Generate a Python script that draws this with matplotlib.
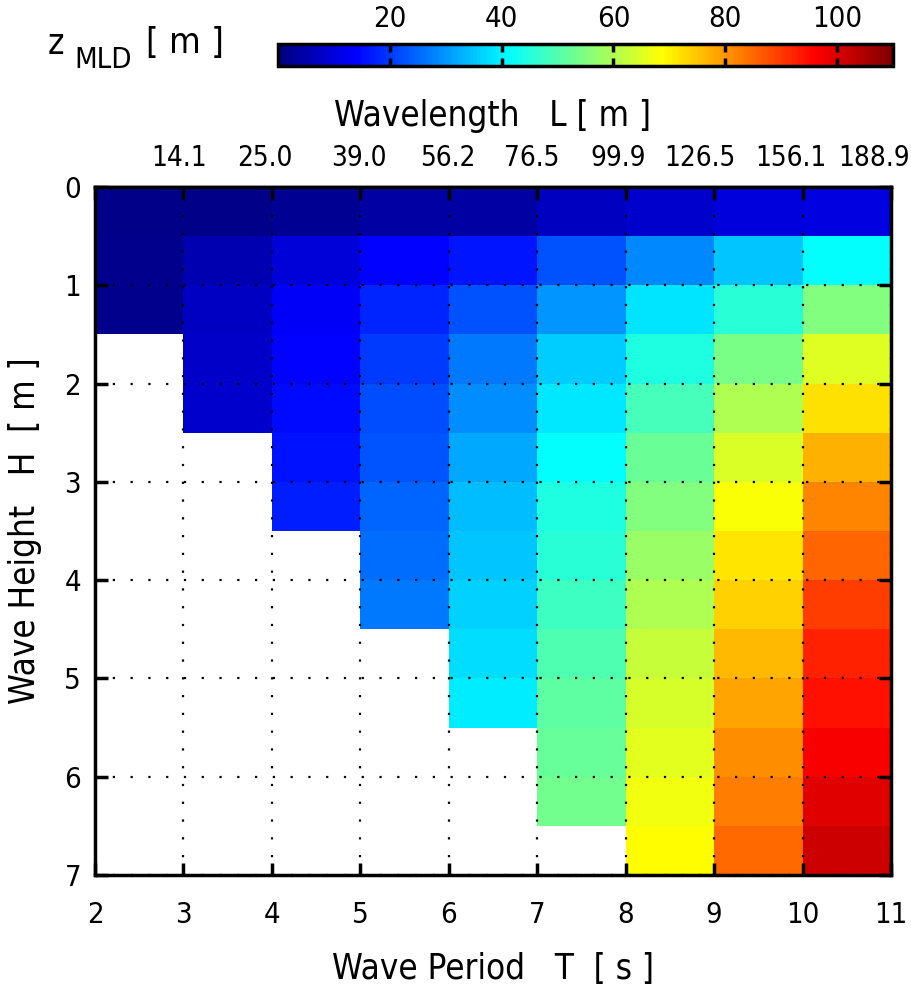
import numpy as np
import matplotlib
matplotlib.use("Agg")
import matplotlib.pyplot as plt
import matplotlib.transforms as mtrans
from matplotlib.colors import LinearSegmentedColormap
from matplotlib import font_manager as fm

# narrow font if one is installed
avail = {f.name for f in fm.fontManager.ttflist}
fams = [f for f in ['Liberation Sans Narrow', 'DejaVu Sans Condensed'] if f in avail]
plt.rcParams['font.family'] = fams + ['DejaVu Sans']
plt.rcParams['font.stretch'] = 'condensed'

# wave period columns (left edges) and wave height rows (top edges)
period = [2, 3, 4, 5, 6, 7, 8, 9, 10]
height_edges = np.arange(0, 7.5, 0.5)

# mixed layer depth [m] per period, from H = 0 downward in 0.5 m steps
mld_T2 = [1.2, 1.5, 1.4]
mld_T3 = [1.1, 5.2, 7.4, 8.0, 8.5]
mld_T4 = [2.5, 9.6, 12.9, 13.8, 14.8, 15.8, 16.8]
mld_T5 = [3.9, 13.8, 18.0, 19.8, 22.0, 23.2, 24.5, 25.4, 26.7]
mld_T6 = [4.2, 16.3, 22.4, 26.7, 28.9, 31.9, 34.0, 34.9, 36.2, 37.5, 39.2]
mld_T7 = [6.9, 22.6, 29.7, 35.8, 38.8, 41.3, 44.3, 45.9, 48.1, 49.8, 51.2, 52.0, 53.3]
mld_T8 = [8.3, 28.4, 38.3, 44.3, 48.6, 52.8, 55.0, 58.0, 59.8, 62.4, 64.1, 65.4, 67.1, 68.8]
mld_T9 = [9.9, 34.9, 45.9, 54.2, 59.8, 64.6, 67.9, 71.7, 73.8, 76.4, 78.6, 81.1, 82.9, 84.7]
mld_T10 = [10.4, 41.3, 55.0, 64.9, 72.0, 77.0, 81.7, 85.5, 89.4, 92.4, 94.5, 97.1, 99.6, 101.8]

wavelength_labels = ['14.1', '25.0', '39.0', '56.2', '76.5', '99.9', '126.5', '156.1', '188.9']
cbar_ticks = [20, 40, 60, 80, 100]

cols = [mld_T2, mld_T3, mld_T4, mld_T5, mld_T6, mld_T7, mld_T8, mld_T9, mld_T10]
nrow = len(height_edges) - 1
Z = np.full((nrow, len(cols)), np.nan)
for j, c in enumerate(cols):
    Z[:len(c), j] = c
Z = np.ma.masked_invalid(Z)

x_edges = np.append(period, period[-1] + 1)

# matlab style jet
mjet = LinearSegmentedColormap('mjet', {
    'red':   [(0, 0, 0), (0.375, 0, 0), (0.625, 1, 1), (0.875, 1, 1), (1, 0.5, 0.5)],
    'green': [(0, 0, 0), (0.125, 0, 0), (0.375, 1, 1), (0.625, 1, 1), (0.875, 0, 0), (1, 0, 0)],
    'blue':  [(0, 0.5, 0.5), (0.125, 1, 1), (0.375, 1, 1), (0.625, 0, 0), (1, 0, 0)],
}, N=256)

fig = plt.figure(figsize=(9.12, 9.86), dpi=100)
ax = fig.add_axes([95/912, 1-875/986, (891-95)/912, (875-187)/986])

mesh = ax.pcolormesh(x_edges, height_edges, Z, cmap=mjet, vmin=0, vmax=110)
ax.set_xlim(2, 11)
ax.set_ylim(7, 0)
ax.set_xticks(range(2, 12))
ax.set_yticks(range(0, 8))
ax.grid(True, color='k', linestyle=(0, (1, 7)), linewidth=1.6)
ax.set_axisbelow(False)
ax.tick_params(direction='in', length=9, width=2.5, top=True, right=True,
               labelsize=21)
ax.tick_params(axis='x', pad=19)
ax.tick_params(axis='y', pad=10)
for s in ax.spines.values():
    s.set_linewidth(2.5)

ax.set_xlabel('Wave Period   T  [ s ]', fontsize=25, labelpad=16)
ax.set_ylabel('Wave Height   H  [ m ]', fontsize=25, labelpad=16)

top = ax.secondary_xaxis('top')
top.set_xticks(range(3, 12), labels=wavelength_labels)
top.tick_params(length=0, labelsize=20, pad=11)
top.spines['top'].set_linewidth(2.5)
top.set_xlabel('Wavelength   L [ m ]', fontsize=25, labelpad=13)

# labels sit a bit left of their ticks in the original
shift_px = [-4, -7, -1, -1, -6, -8, -14, -12, -17]
for lab, dx in zip(top.get_xticklabels(), shift_px):
    lab.set_transform(lab.get_transform() + mtrans.ScaledTranslation(dx/100, 0, fig.dpi_scale_trans))

cax = fig.add_axes([278/912, 1-66/986, (893-278)/912, 22/986])
cb = fig.colorbar(mesh, cax=cax, orientation='horizontal', ticks=cbar_ticks)
cax.tick_params(direction='in', top=True, bottom=True, labeltop=True,
                labelbottom=False, length=6, width=2.5, labelsize=21, pad=8)
cb.outline.set_linewidth(2.5)

fig.text(48/912, 1-44/986, 'z', fontsize=25, va='center', ha='left')
fig.text(74/912, 1-60/986, 'MLD', fontsize=21, va='center', ha='left')
fig.text(146/912, 1-43/986, '[ m ]', fontsize=26, va='center', ha='left')

fig.savefig('out.png', dpi=100)
